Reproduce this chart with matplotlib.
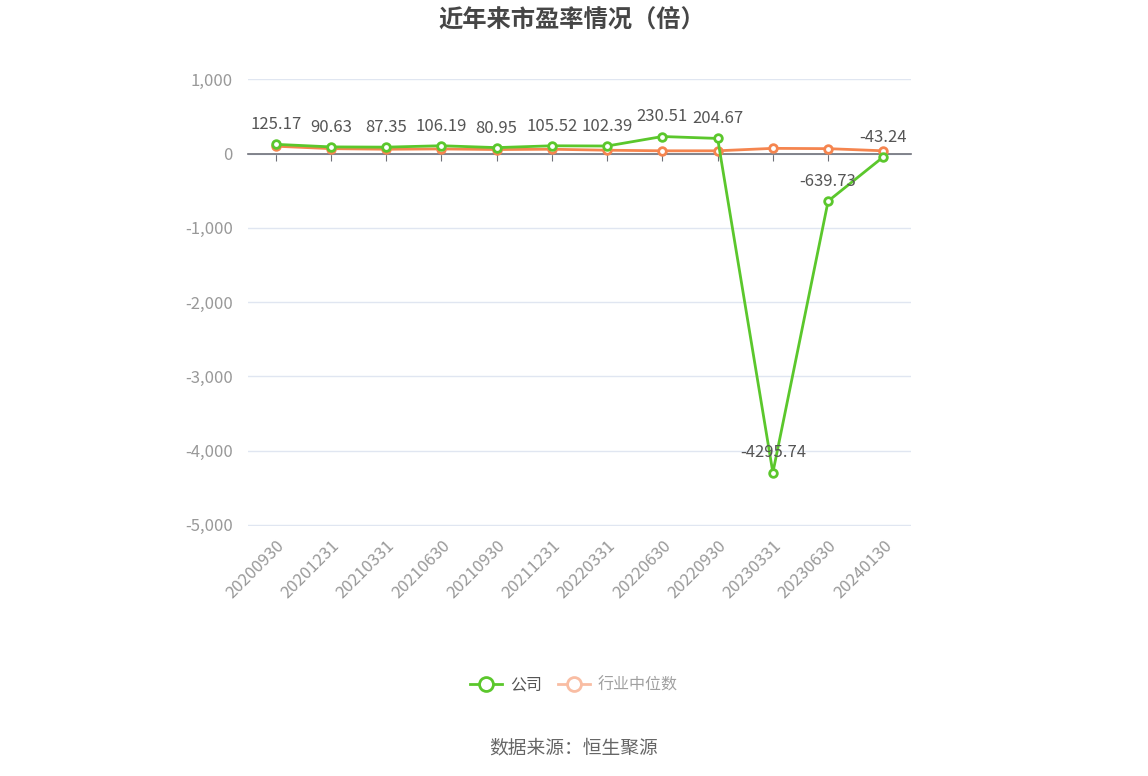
import matplotlib

matplotlib.use("Agg")
import matplotlib.pyplot as plt
import numpy as np

plt.rcParams["font.family"] = ["Noto Sans CJK SC", "DejaVu Sans"]

dates = ["20200930", "20201231", "20210331", "20210630", "20210930", "20211231",
         "20220331", "20220630", "20220930", "20230331", "20230630", "20240130"]
company_pe = [125.17, 90.63, 87.35, 106.19, 80.95, 105.52, 102.39, 230.51, 204.67,
              -4295.74, -639.73, -43.24]
industry_pe = [100, 67, 59, 63, 55, 59, 46, 38, 38, 71, 67, 38]
y_ticks = [1000, 0, -1000, -2000, -3000, -4000, -5000]

GREEN = "#5bc72c"
ORANGE = "#f5854f"
GRID = "#e0e6f1"
AXIS = "#6e7079"
LABEL = "#999999"

fig = plt.figure(figsize=(11.48, 7.76), dpi=100)
ax = fig.add_axes([248 / 1148, 1 - 526 / 776, 663 / 1148, 447 / 776])

x = np.arange(len(dates))
ax.plot(x, industry_pe, color=ORANGE, linewidth=2, marker="o", markersize=5.5,
        markerfacecolor="white", markeredgecolor=ORANGE, markeredgewidth=2, zorder=3)
ax.plot(x, company_pe, color=GREEN, linewidth=2, marker="o", markersize=5.5,
        markerfacecolor="white", markeredgecolor=GREEN, markeredgewidth=2, zorder=4)

for xi, v in zip(x, company_pe):
    ax.annotate(f"{v:.2f}", (xi, v), xytext=(0, 8), textcoords="offset points",
                ha="center", va="bottom", fontsize=12, color="#555555", zorder=5)

ax.set_xlim(-0.5, len(dates) - 0.5)
ax.set_ylim(-5015, 1005)
ax.set_yticks(y_ticks)
ax.set_yticklabels([f"{t:,}" for t in y_ticks])
ax.tick_params(axis="y", length=0, pad=11, labelsize=12, labelcolor=LABEL)
ax.grid(axis="y", color=GRID, linewidth=1)
ax.set_axisbelow(True)

for side in ["top", "right", "left"]:
    ax.spines[side].set_visible(False)
ax.spines["bottom"].set_position(("data", 0))
ax.spines["bottom"].set_color(AXIS)
ax.spines["bottom"].set_linewidth(1.2)
ax.set_xticks(x)
ax.tick_params(axis="x", direction="out", length=5, color=AXIS, labelbottom=False)

sec = ax.secondary_xaxis(0.0)
sec.set_xticks(x)
sec.set_xticklabels(dates, rotation=45, ha="right", rotation_mode="anchor")
sec.tick_params(axis="x", length=0, pad=8, labelsize=12, labelcolor=LABEL)
sec.spines["bottom"].set_visible(False)

fig.text(0.4985, 0.974, "近年来市盈率情况（倍）", ha="center", va="center",
         fontsize=17.5, fontweight="bold", color="#464646")

# legend
legend_y = 1 - 685 / 776
handles = [
    plt.Line2D([], [], color=GREEN, linewidth=2, marker="o", markersize=10,
               markerfacecolor="white", markeredgewidth=2),
    plt.Line2D([], [], color="#f9bda3", linewidth=2, marker="o", markersize=10,
               markerfacecolor="white", markeredgewidth=2),
]
leg = fig.legend(handles, ["公司", "行业中位数"], loc="center", bbox_to_anchor=(0.5, legend_y),
                 ncol=2, frameon=False, fontsize=11.5, handlelength=2.0, columnspacing=1.0,
                 handletextpad=0.5)
leg.get_texts()[0].set_color("#555555")
leg.get_texts()[1].set_color("#a0a0a0")

fig.text(0.5, 1 - 748 / 776, "数据来源：恒生聚源", ha="center", va="center",
         fontsize=13.5, color="#666666")

fig.savefig("out.png", dpi=100)
